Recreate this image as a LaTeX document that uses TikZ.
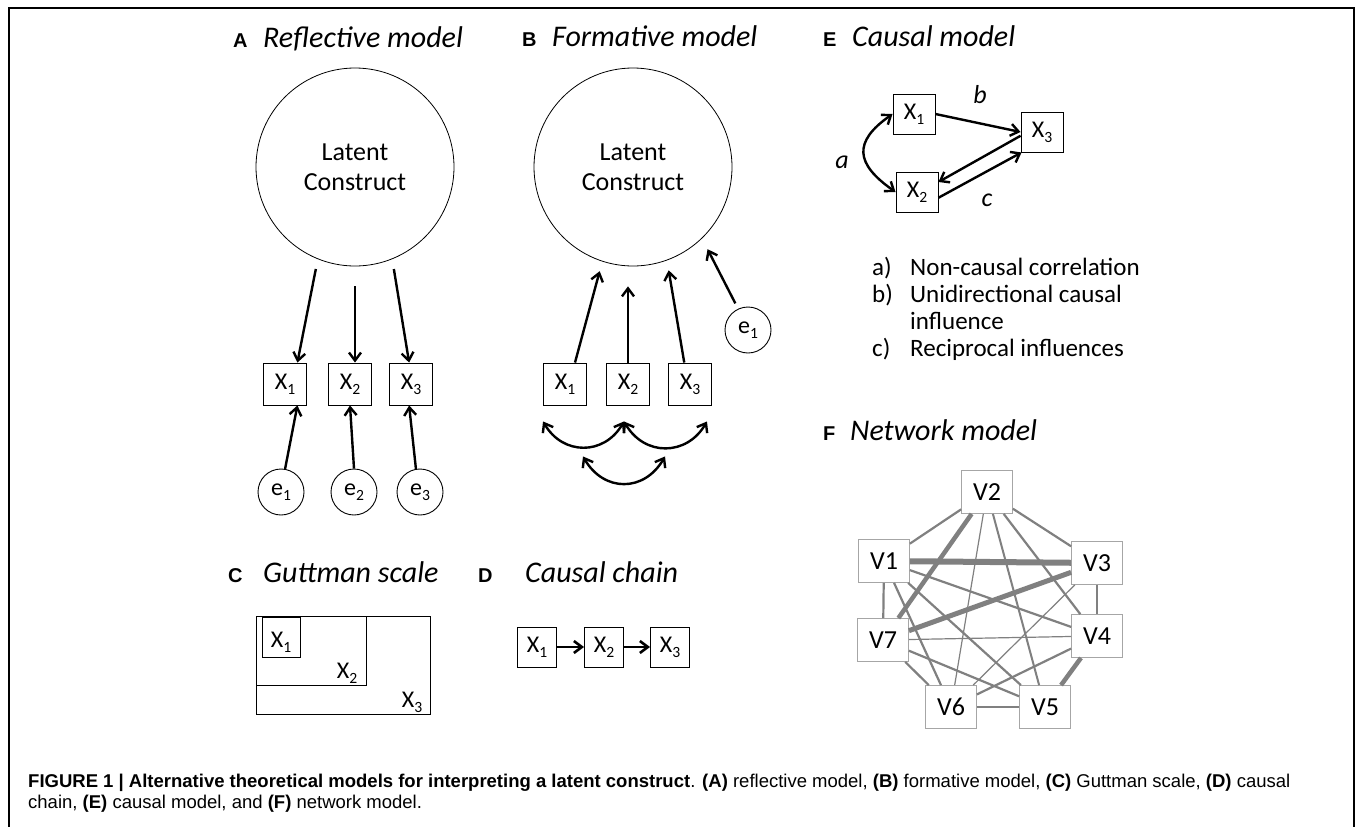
\documentclass[tikz,border=0pt]{standalone}
\usepackage{fontspec}
\setmainfont{Carlito}
\newfontfamily\capfont{Liberation Sans}
\usetikzlibrary{arrows.meta}

% small lowered index for the item labels
\newcommand{\lowsub}[1]{\raisebox{-0.2em}{\scalebox{0.65}{#1}}}

\tikzset{
  >={Straight Barb[length=8pt,width=12pt]},
  panel/.style={font=\capfont\bfseries\fontsize{20}{22}\selectfont, anchor=base west, inner sep=0},
  heading/.style={font=\itshape\fontsize{30}{34}\selectfont, anchor=base west, inner sep=0},
  latent/.style={circle, draw, line width=0.8, minimum size=198, inner sep=0, align=center,
    font=\fontsize{26}{30}\selectfont},
  obs/.style={draw, line width=0.9, minimum width=43, minimum height=42, inner sep=0,
    font=\fontsize{24}{28}\selectfont},
  err/.style={circle, draw, line width=0.9, minimum size=46, inner sep=0,
    font=\fontsize{24}{28}\selectfont},
  arr/.style={->, line width=2.4},
  netbox/.style={draw=black!35, fill=white, line width=0.8, minimum width=51, minimum height=43,
    inner sep=0, font=\fontsize{26}{30}\selectfont},
  wt/.style={draw=black!50, line width=#1},
  lbl/.style={font=\itshape\fontsize{26}{30}\selectfont, inner sep=0},
}

\begin{document}
\begin{tikzpicture}[x=1pt, y=1pt]
    \useasboundingbox (0,0) rectangle (1355,-827);
    \fill[white] (0,0) rectangle (1355,-827);

    % Frame round the figure
    \draw[line width=1.2] (9,-827) -- (9,-8) -- (1354,-8) -- (1354,-827);

    % A: reflective model
    \node[panel] (pa) at (233,-47) {A};
    \node[heading] (ta) at (263,-47) {Reflective model};
    \node[latent] (la) at (355,-167) {Latent\\Construct};
    \foreach \i/\x/\ex in {1/285/281, 2/350/354, 3/411/420} {
        \node[obs] (xa\i) at (\x,-384) {X\lowsub{\i}};
        \node[err] (ea\i) at (\ex,-492) {e\lowsub{\i}};
    }
    \draw[arr, shorten <=10] (la.-112) -- (xa1.60);
    \draw[arr, shorten <=20] (la.south) -- (la.south |- xa2.north);
    \draw[arr, shorten <=10] (la.-68) -- (xa3.95);
    \draw[arr] (ea1.80) -- (xa1.-60);
    \draw[arr] (ea2.north) -- (xa2.south);
    \draw[arr] (ea3.100) -- (xa3.-95);

    % B: formative model
    \node[panel] (pb) at (522,-46) {B};
    \node[heading] (tb) at (552,-46) {Formative model};
    \node[latent] (lb) at (633,-167) {Latent\\Construct};
    \foreach \i/\x in {1/565, 2/628, 3/690}
        \node[obs] (xb\i) at (\x,-384) {X\lowsub{\i}};
    \node[err] (eb1) at (748,-330) {e\lowsub{1}};
    \draw[arr, shorten >=10] (xb1.65) -- (lb.-108);
    \draw[arr, shorten >=20] (xb2.north) -- (xb2.north |- lb.south);
    \draw[arr, shorten >=10] (xb3.105) -- (lb.-70);
    \draw[arr, shorten <=6, shorten >=12] (eb1.115) -- (lb.-46);

    % correlations among the indicators
    \coordinate (c1) at ([yshift=-16]xb1.south west);
    \coordinate (c2) at ([xshift=-4,yshift=-16]xb2.south);
    \coordinate (c3) at ([xshift=-5,yshift=-16]xb3.south east);
    \coordinate (c4) at ([xshift=18,yshift=-51]xb1.south);
    \coordinate (c5) at ([xshift=-25,yshift=-51]xb3.south);
    \draw[arr, <->] (c1) to[out=-60, in=-120, looseness=1.25] (c2);
    \draw[arr, <->] (c2) to[out=-60, in=-120, looseness=1.25] (c3);
    \draw[arr, <->] (c4) to[out=-60, in=-120, looseness=1.3] (c5);

    % C: Guttman scale
    \node[panel] (pc) at (228,-582) {C};
    \node[heading] (tc) at (263,-582) {Guttman scale};
    \draw[line width=0.9] (256,-616) rectangle (430,-714);
    \draw[line width=0.9] (256,-616) rectangle (366,-685);
    \draw[line width=0.9] (262,-617) rectangle (300,-657);
    \node[font=\fontsize{24}{28}\selectfont] (gx1) at (281,-642) {X\lowsub{1}};
    \node[font=\fontsize{24}{28}\selectfont] (gx2) at (347,-673) {X\lowsub{2}};
    \node[font=\fontsize{24}{28}\selectfont] (gx3) at (412,-702) {X\lowsub{3}};

    % D: causal chain
    \node[panel] (pd) at (478,-582) {D};
    \node[heading] (td) at (525,-582) {Causal chain};
    \foreach \i/\x in {1/537, 2/604, 3/670}
        \node[obs, minimum width=39, minimum height=40] (xd\i) at (\x,-647) {X\lowsub{\i}};
    \draw[arr, line width=2.6] (xd1) -- (xd2);
    \draw[arr, line width=2.6] (xd2) -- (xd3);

    % E: causal model
    \node[panel] (pe) at (823,-46) {E};
    \node[heading] (te) at (852,-46) {Causal model};
    \node[obs, minimum width=42, minimum height=40] (xe1) at (914,-114) {X\lowsub{1}};
    \node[obs, minimum width=42, minimum height=40] (xe2) at (917,-192) {X\lowsub{2}};
    \node[obs, minimum width=42, minimum height=40] (xe3) at (1042,-132) {X\lowsub{3}};
    \draw[arr] (xe1.east) -- (xe3.west);
    \draw[arr] (xe3.190) -- (xe2.25);
    \draw[arr] (xe2.-15) -- (xe3.-135);
    \draw[arr, <->] (xe1.west) to[out=215, in=145, looseness=1.6] (xe2.west);
    \node[lbl] (la-a) at (842,-162) {a};
    \node[lbl] (la-b) at (980,-95) {b};
    \node[lbl] (la-c) at (987,-200) {c};
    \node[anchor=base west, inner sep=0, font=\fontsize{25}{27}\selectfont] (keys) at (872,-275)
        {\begin{tabular}[t]{@{}p{38pt}@{}l@{}}
            a) & Non-causal correlation\\
            b) & Unidirectional causal\\
               & influence\\
            c) & Reciprocal influences
        \end{tabular}};

    % F: network model
    \node[panel] (pf) at (823,-440) {F};
    \node[heading] (tf) at (850,-440) {Network model};
    \foreach \n/\x/\y in {1/884/-561, 2/987/-492, 3/1097/-563, 4/1097/-636,
                          5/1045/-707, 6/951/-707, 7/883/-640}
        \node[netbox] (v\n) at (\x,\y) {V\n};
    \foreach \a/\b/\w in {v1/v3/6, v3/v7/5, v2/v7/4.5, v4/v5/4.5,
                          v1/v2/2.2, v2/v3/2.2, v1/v7/2.2, v3/v4/2.2, v5/v6/2.2,
                          v6/v7/2.2, v2/v4/2.2, v2/v5/2, v1/v4/2.2, v1/v5/2.2,
                          v1/v6/2.2, v5/v7/2.2, v4/v6/2.2,
                          v2/v6/1.2, v4/v7/1.2, v3/v6/1.2}
        \draw[wt=\w] (\a) -- (\b);

    % Caption
    \node[anchor=base west, inner sep=0, font=\capfont\fontsize{18.5}{22}\selectfont] (cap1) at (28,-787)
        {\textbf{FIGURE 1 | Alternative theoretical models for interpreting a latent construct}. \textbf{(A)} reflective model, \textbf{(B)} formative model, \textbf{(C)} Guttman scale, \textbf{(D)} causal};
    \node[anchor=base west, inner sep=0, font=\capfont\fontsize{18.5}{22}\selectfont] (cap2) at (28,-808)
        {chain, \textbf{(E)} causal model, and \textbf{(F)} network model.};
\end{tikzpicture}
\end{document}
